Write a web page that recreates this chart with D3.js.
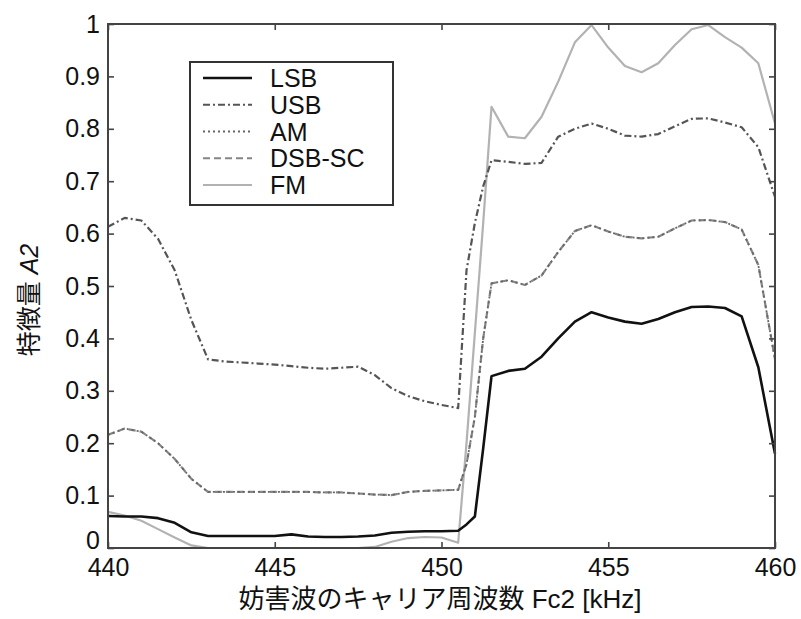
<!DOCTYPE html>
<html>
<head>
<meta charset="utf-8">
<script src="https://cdn.jsdelivr.net/npm/d3@7"></script>
<style>
  html, body { margin: 0; padding: 0; background: #fff; }
  svg { display: block; }
  text { font-family: "Liberation Sans", Arial, "Noto Sans CJK JP", sans-serif; fill: #111; }
</style>
</head>
<body>
<svg id="chart" width="801" height="619"></svg>
<script>
// Carrier frequency of the interfering wave (kHz)
const freq = [440, 440.5, 441, 441.5, 442, 442.5, 443, 443.5, 444, 444.5,
  445, 445.5, 446, 446.5, 447, 447.5, 448, 448.5, 449, 449.5,
  450, 450.5, 450.75, 451, 451.25, 451.5, 452, 452.5, 453, 453.5,
  454, 454.5, 455, 455.5, 456, 456.5, 457, 457.5, 458, 458.5,
  459, 459.5, 460];

// Feature A2 per modulation type
const lsb = [0.061, 0.060, 0.060, 0.057, 0.048, 0.030, 0.023, 0.023, 0.023, 0.023,
  0.023, 0.026, 0.022, 0.021, 0.021, 0.022, 0.024, 0.029, 0.031, 0.032,
  0.032, 0.033, 0.045, 0.060, 0.190, 0.328, 0.338, 0.342, 0.365, 0.400,
  0.432, 0.450, 0.440, 0.432, 0.428, 0.437, 0.450, 0.460, 0.461, 0.458,
  0.442, 0.345, 0.180];
const usb = [0.613, 0.630, 0.625, 0.590, 0.530, 0.435, 0.360, 0.356, 0.354, 0.352,
  0.350, 0.347, 0.344, 0.342, 0.344, 0.346, 0.330, 0.305, 0.290, 0.280,
  0.273, 0.267, 0.530, 0.620, 0.690, 0.740, 0.737, 0.733, 0.735, 0.785,
  0.800, 0.810, 0.800, 0.787, 0.785, 0.790, 0.805, 0.819, 0.820, 0.812,
  0.803, 0.765, 0.670];
const am = [0.216, 0.228, 0.222, 0.200, 0.170, 0.132, 0.107, 0.107, 0.107, 0.107,
  0.107, 0.107, 0.107, 0.106, 0.106, 0.104, 0.102, 0.101, 0.107, 0.109,
  0.110, 0.111, 0.160, 0.250, 0.400, 0.505, 0.511, 0.502, 0.520, 0.565,
  0.605, 0.616, 0.604, 0.594, 0.591, 0.594, 0.610, 0.625, 0.626, 0.622,
  0.608, 0.540, 0.360];
const dsbsc = [0.216, 0.228, 0.222, 0.200, 0.170, 0.132, 0.107, 0.107, 0.107, 0.107,
  0.107, 0.107, 0.107, 0.106, 0.106, 0.104, 0.102, 0.101, 0.107, 0.109,
  0.110, 0.111, 0.160, 0.250, 0.400, 0.505, 0.511, 0.502, 0.520, 0.565,
  0.605, 0.616, 0.604, 0.594, 0.591, 0.594, 0.610, 0.625, 0.626, 0.622,
  0.608, 0.540, 0.360];
const fm = [0.069, 0.062, 0.052, 0.036, 0.020, 0.005, 0.000, 0.000, 0.000, 0.000,
  0.000, 0.000, 0.000, 0.000, 0.000, 0.000, 0.002, 0.012, 0.019, 0.021,
  0.020, 0.010, 0.200, 0.410, 0.620, 0.842, 0.785, 0.782, 0.823, 0.890,
  0.965, 0.998, 0.955, 0.920, 0.908, 0.925, 0.960, 0.990, 0.998, 0.975,
  0.955, 0.925, 0.810];

const seriesNames = ["LSB", "USB", "AM", "DSB-SC", "FM"];
const xTicks = [440, 445, 450, 455, 460];
const xTickLabels = ["440", "445", "450", "455", "460"];
const yTicks = [0, 0.1, 0.2, 0.3, 0.4, 0.5, 0.6, 0.7, 0.8, 0.9, 1];
const yTickLabels = ["0", "0.1", "0.2", "0.3", "0.4", "0.5", "0.6", "0.7", "0.8", "0.9", "1"];

const styles = {
  "LSB":    { color: "#111", width: 2.6, dash: null },
  "USB":    { color: "#555", width: 2.2, dash: "7,3,2,3" },
  "AM":     { color: "#666", width: 1.8, dash: "2,3" },
  "DSB-SC": { color: "#858585", width: 2.2, dash: "7,4" },
  "FM":     { color: "#b2b2b2", width: 2.2, dash: null }
};
const values = { "LSB": lsb, "USB": usb, "AM": am, "DSB-SC": dsbsc, "FM": fm };

const svg = d3.select("#chart");
const plotLeft = 108, plotRight = 775, plotTop = 24, plotBottom = 548;

const x = d3.scaleLinear().domain([440, 460]).range([plotLeft, plotRight]);
const y = d3.scaleLinear().domain([0, 1]).range([plotBottom, plotTop]);

const line = d3.line().x(d => x(d[0])).y(d => y(d[1]));

// Curves (light ones first so the dark ones sit on top)
const drawOrder = ["FM", "DSB-SC", "AM", "USB", "LSB"];
const plot = svg.append("g");
drawOrder.forEach(name => {
  const s = styles[name];
  plot.append("path")
    .datum(freq.map((f, i) => [f, values[name][i]]))
    .attr("d", line)
    .attr("fill", "none")
    .attr("stroke", s.color)
    .attr("stroke-width", s.width)
    .attr("stroke-dasharray", s.dash)
    .attr("stroke-linejoin", "round");
});

// Axes with inward ticks on all four sides
const fontSize = 25;
const xAxis = d3.axisBottom(x).tickValues(xTicks)
  .tickFormat((d, i) => xTickLabels[i]).tickSizeInner(-6).tickSizeOuter(0).tickPadding(10);
const yAxis = d3.axisLeft(y).tickValues(yTicks)
  .tickFormat((d, i) => yTickLabels[i]).tickSizeInner(-6).tickSizeOuter(0).tickPadding(8);
const xTop = d3.axisTop(x).tickValues(xTicks).tickFormat("").tickSizeInner(-6).tickSizeOuter(0);
const yRight = d3.axisRight(y).tickValues(yTicks).tickFormat("").tickSizeInner(-6).tickSizeOuter(0);

function styleAxis(g) {
  g.select(".domain").remove();
  g.selectAll(".tick line").attr("stroke", "#444").attr("stroke-width", 1.6);
  g.selectAll(".tick text").attr("font-size", fontSize)
    .attr("font-family", "'Liberation Sans', Arial, sans-serif").attr("fill", "#111");
}
svg.append("g").attr("transform", `translate(0,${plotBottom})`).call(xAxis).call(styleAxis)
  .selectAll(".tick text").attr("dy", "0.72em");
const yAxisG = svg.append("g").attr("transform", `translate(${plotLeft},0)`).call(yAxis).call(styleAxis);
// lift the "0" label clear of the "440" label beneath it
yAxisG.selectAll(".tick text").filter(d => d === 0).attr("dy", "0.02em");
svg.append("g").attr("transform", `translate(0,${plotTop})`).call(xTop).call(styleAxis);
svg.append("g").attr("transform", `translate(${plotRight},0)`).call(yRight).call(styleAxis);

// Plot frame
svg.append("rect")
  .attr("x", plotLeft).attr("y", plotTop)
  .attr("width", plotRight - plotLeft).attr("height", plotBottom - plotTop)
  .attr("fill", "none").attr("stroke", "#444").attr("stroke-width", 2);

// Axis titles
svg.append("text")
  .attr("x", 440).attr("y", 608)
  .attr("text-anchor", "middle")
  .attr("font-size", 26)
  .attr("font-family", "'Noto Sans CJK JP', sans-serif")
  .text("妨害波のキャリア周波数 Fc2 [kHz]");

const yTitle = svg.append("text")
  .attr("transform", "translate(38,300) rotate(-90)")
  .attr("text-anchor", "middle")
  .attr("font-size", 25)
  .attr("font-family", "'Noto Sans CJK JP', sans-serif");
yTitle.append("tspan").text("特徴量 ");
yTitle.append("tspan").attr("font-style", "italic")
  .attr("font-family", "'Liberation Sans', Arial, sans-serif").text("A2");

// Legend
const legend = svg.append("g");
legend.append("rect")
  .attr("x", 190).attr("y", 62).attr("width", 203).attr("height", 143)
  .attr("fill", "#fff").attr("stroke", "#333").attr("stroke-width", 2);
const rowY = d3.scalePoint().domain(seriesNames).range([78, 185]);
seriesNames.forEach(name => {
  const s = styles[name];
  const cy = rowY(name);
  legend.append("line")
    .attr("x1", 203).attr("x2", 252).attr("y1", cy).attr("y2", cy)
    .attr("stroke", s.color).attr("stroke-width", s.width)
    .attr("stroke-dasharray", s.dash);
  legend.append("text")
    .attr("x", 270).attr("y", cy + 9)
    .attr("font-size", 25)
    .text(name);
});
</script>
</body>
</html>
